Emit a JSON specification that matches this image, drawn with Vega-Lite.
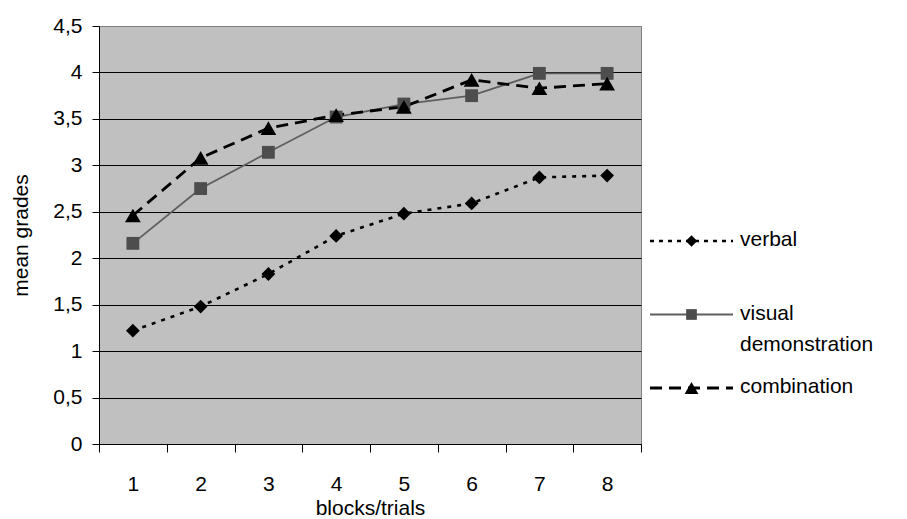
{
  "$schema": "https://vega.github.io/schema/vega-lite/v6.json",
  "background": "white",
  "padding": {"left": 10, "top": 14, "right": 0, "bottom": 0},
  "config": {
    "font": "Liberation Sans",
    "view": {"stroke": null},
    "axis": {
      "labelFont": "Liberation Sans",
      "titleFont": "Liberation Sans",
      "labelFontSize": 21,
      "titleFontSize": 21,
      "titleFontWeight": "normal",
      "labelColor": "#000000",
      "titleColor": "#000000",
      "domainColor": "#000000",
      "tickColor": "#000000",
      "domainWidth": 1,
      "tickWidth": 1
    }
  },
  "datasets": {
    "grades": [
      {"series": "verbal", "block": 1, "grade": 1.22},
      {"series": "verbal", "block": 2, "grade": 1.48},
      {"series": "verbal", "block": 3, "grade": 1.83},
      {"series": "verbal", "block": 4, "grade": 2.24},
      {"series": "verbal", "block": 5, "grade": 2.48},
      {"series": "verbal", "block": 6, "grade": 2.59},
      {"series": "verbal", "block": 7, "grade": 2.87},
      {"series": "verbal", "block": 8, "grade": 2.89},
      {"series": "visual demonstration", "block": 1, "grade": 2.16},
      {"series": "visual demonstration", "block": 2, "grade": 2.75},
      {"series": "visual demonstration", "block": 3, "grade": 3.14},
      {"series": "visual demonstration", "block": 4, "grade": 3.52},
      {"series": "visual demonstration", "block": 5, "grade": 3.66},
      {"series": "visual demonstration", "block": 6, "grade": 3.75},
      {"series": "visual demonstration", "block": 7, "grade": 3.99},
      {"series": "visual demonstration", "block": 8, "grade": 3.99},
      {"series": "combination", "block": 1, "grade": 2.46},
      {"series": "combination", "block": 2, "grade": 3.08},
      {"series": "combination", "block": 3, "grade": 3.40},
      {"series": "combination", "block": 4, "grade": 3.54},
      {"series": "combination", "block": 5, "grade": 3.63},
      {"series": "combination", "block": 6, "grade": 3.92},
      {"series": "combination", "block": 7, "grade": 3.83},
      {"series": "combination", "block": 8, "grade": 3.88}
    ],
    "legendRows": [
      {"series": "verbal", "label": "verbal"},
      {"series": "visual demonstration", "label": "visual\ndemonstration"},
      {"series": "combination", "label": "combination"}
    ]
  },
  "bounds": "flush",
  "spacing": 9,
  "hconcat": [
    {
      "width": 542,
      "height": 418,
      "view": {"fill": "#C0C0C0", "stroke": "#808080", "strokeWidth": 1},
      "data": {"name": "grades"},
      "encoding": {
        "x": {
          "field": "block",
          "type": "ordinal",
          "scale": {"type": "band", "paddingInner": 0, "paddingOuter": 0},
          "axis": {
            "title": "blocks/trials",
            "labelAngle": 0,
            "tickBand": "extent",
            "tickSize": 8,
            "labelPadding": 21,
            "titlePadding": 3,
            "grid": false
          }
        },
        "y": {
          "field": "grade",
          "type": "quantitative",
          "scale": {"domain": [0, 4.5], "nice": false, "zero": true},
          "axis": {
            "title": "mean grades",
            "values": [0, 0.5, 1, 1.5, 2, 2.5, 3, 3.5, 4, 4.5],
            "format": "~g",
            "labelExpr": "replace(datum.label, '.', ',')",
            "tickSize": 7,
            "labelPadding": 10,
            "titlePadding": 21,
            "grid": true,
            "gridColor": {"condition": {"test": "datum.value >= 4.5", "value": "#808080"}, "value": "#000000"},
            "gridOpacity": 1,
            "gridWidth": 1
          }
        }
      },
      "layer": [
        {
          "transform": [{"filter": "datum.series === 'verbal'"}],
          "mark": {"type": "line", "stroke": "#000000", "strokeDash": [4, 6], "strokeWidth": 2.6}
        },
        {
          "transform": [{"filter": "datum.series === 'visual demonstration'"}],
          "mark": {"type": "line", "stroke": "#5e5e5e", "strokeWidth": 1.8}
        },
        {
          "transform": [{"filter": "datum.series === 'combination'"}],
          "mark": {"type": "line", "stroke": "#000000", "strokeDash": [12, 7], "strokeWidth": 2.8}
        },
        {
          "transform": [{"filter": "datum.series === 'verbal'"}],
          "mark": {"type": "point", "shape": "diamond", "filled": true, "fill": "#000000", "opacity": 1, "size": 190}
        },
        {
          "transform": [{"filter": "datum.series === 'visual demonstration'"}],
          "mark": {"type": "point", "shape": "square", "filled": true, "fill": "#4d4d4d", "opacity": 1, "size": 165}
        },
        {
          "transform": [{"filter": "datum.series === 'combination'"}],
          "mark": {"type": "point", "shape": "triangle-up", "filled": true, "fill": "#000000", "opacity": 1, "size": 250}
        }
      ]
    },
    {
      "width": 83,
      "height": 418,
      "data": {"name": "legendRows"},
      "encoding": {
        "y": {"field": "series", "type": "nominal", "scale": {"type": "point", "padding": 0, "domain": ["verbal", "visual demonstration", "combination"], "range": [215, 362]}, "axis": null}
      },
      "layer": [
        {
          "transform": [{"filter": "datum.series === 'verbal'"}],
          "mark": {"type": "rule", "stroke": "#000000", "strokeDash": [4, 5], "strokeWidth": 2.6},
          "encoding": {
            "x": {"datum": 0, "type": "quantitative", "scale": {"domain": [0, 1], "nice": false}, "axis": null},
            "x2": {"datum": 1}
          }
        },
        {
          "transform": [{"filter": "datum.series === 'visual demonstration'"}],
          "mark": {"type": "rule", "stroke": "#5e5e5e", "strokeWidth": 1.8},
          "encoding": {
            "x": {"datum": 0, "type": "quantitative"},
            "x2": {"datum": 1}
          }
        },
        {
          "transform": [{"filter": "datum.series === 'combination'"}],
          "mark": {"type": "rule", "stroke": "#000000", "strokeDash": [12, 7], "strokeWidth": 2.8},
          "encoding": {
            "x": {"datum": 0, "type": "quantitative"},
            "x2": {"datum": 1}
          }
        },
        {
          "transform": [{"filter": "datum.series === 'verbal'"}],
          "mark": {"type": "point", "shape": "diamond", "filled": true, "fill": "#000000", "opacity": 1, "size": 130},
          "encoding": {"x": {"datum": 0.5, "type": "quantitative"}}
        },
        {
          "transform": [{"filter": "datum.series === 'visual demonstration'"}],
          "mark": {"type": "point", "shape": "square", "filled": true, "fill": "#4d4d4d", "opacity": 1, "size": 115},
          "encoding": {"x": {"datum": 0.5, "type": "quantitative"}}
        },
        {
          "transform": [{"filter": "datum.series === 'combination'"}],
          "mark": {"type": "point", "shape": "triangle-up", "filled": true, "fill": "#000000", "opacity": 1, "size": 190},
          "encoding": {"x": {"datum": 0.5, "type": "quantitative"}}
        },
        {
          "mark": {"type": "text", "align": "left", "baseline": "top", "dx": 7, "dy": -12, "fontSize": 21, "lineHeight": 31, "lineBreak": "\n", "color": "#000000", "font": "Liberation Sans"},
          "encoding": {
            "x": {"datum": 1, "type": "quantitative"},
            "text": {"field": "label", "type": "nominal"}
          }
        }
      ]
    }
  ]
}
